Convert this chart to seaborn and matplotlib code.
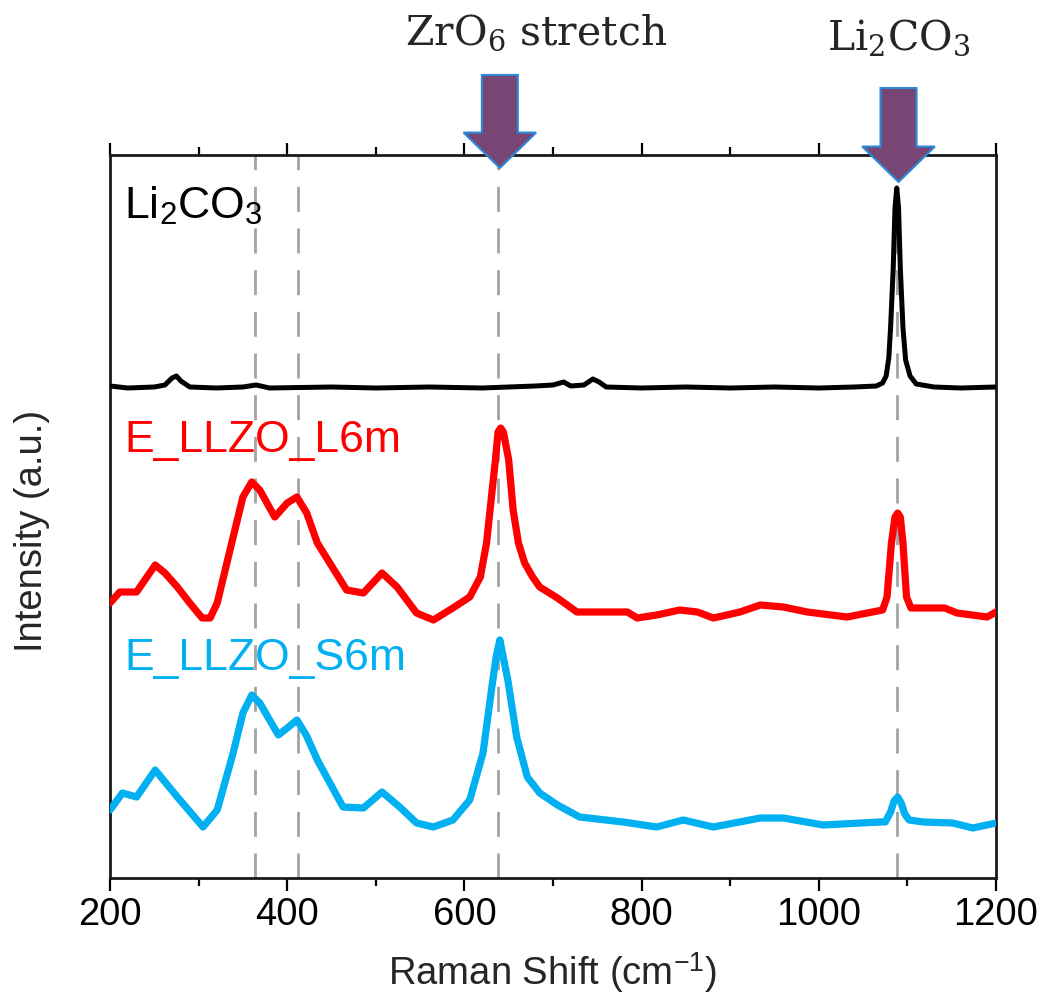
import numpy as np
import pandas as pd
import matplotlib
matplotlib.use("Agg")
import matplotlib.pyplot as plt
import matplotlib.transforms as mtransforms
from matplotlib.patches import FancyArrow
from matplotlib.ticker import MultipleLocator
import seaborn as sns

# Raman shift (cm-1) and intensity above each trace's own baseline (a.u.)
li2co3_shift = [200, 220, 250, 262, 270, 275, 280, 290, 320, 350, 365, 380, 450, 500, 560, 620,
                680, 700, 712, 720, 735, 745, 752, 760, 800, 850, 900, 950, 1000, 1040, 1065, 1072,
                1076, 1079, 1081, 1084, 1086, 1088, 1090, 1092, 1095, 1098, 1103, 1110, 1130, 1160, 1200]
li2co3_int = [2, 0, 1, 3, 10, 12, 7, 1, 0, 1, 3, 0, 1, 0, 1, 0,
              2, 3, 6, 2, 3, 9, 6, 1, 0, 1, 0, 1, 0, 1, 2, 5,
              12, 30, 60, 120, 180, 200, 180, 120, 60, 28, 12, 4, 1, 0, 1]

l6m_shift = [200, 211, 230, 237, 251, 262, 276, 290, 304, 313, 321, 339, 350, 360, 369, 386,
             400, 411, 422, 434, 467, 486, 507, 524, 546, 565, 587, 606, 618, 625, 631, 635,
             638, 641, 644, 650, 655, 661, 668, 677, 685, 705, 727, 784, 795, 817, 843, 863,
             881, 911, 934, 960, 987, 1032, 1072, 1077, 1082, 1086, 1089, 1092, 1095, 1099, 1104,
             1142, 1156, 1190, 1200]
l6m_int = [15, 26, 26, 35, 53, 45, 31, 15, 0, 0, 15, 81, 121, 136, 128, 101,
           115, 121, 105, 75, 28, 25, 45, 31, 5, -2, 10, 21, 41, 75, 125, 158,
           186, 190, 186, 158, 108, 75, 55, 41, 31, 20, 6, 6, 0, 3, 8, 6,
           0, 6, 13, 11, 6, 1, 8, 21, 75, 101, 105, 101, 75, 21, 10,
           10, 5, 1, 6]

s6m_shift = [200, 214, 230, 251, 276, 305, 321, 339, 350, 360, 369, 390, 400, 411, 422, 434,
             463, 486, 507, 527, 546, 565, 587, 606, 621, 631, 636, 640, 649, 659, 671, 685,
             705, 730, 779, 817, 847, 881, 934, 960, 1005, 1069, 1075, 1081, 1085, 1089, 1093,
             1097, 1102, 1118, 1151, 1174, 1200]
s6m_int = [18, 35, 31, 58, 31, 1, 18, 75, 115, 133, 125, 93, 100, 108, 92, 68,
           21, 20, 36, 21, 5, 1, 8, 28, 75, 141, 172, 188, 148, 91, 51, 35,
           23, 11, 6, 1, 8, 1, 10, 10, 3, 6, 6, 16, 27, 31, 25,
           14, 8, 6, 5, 0, 5]

sample_names = ["Li$_\\mathsf{2}$CO$_\\mathsf{3}$", "E_LLZO_L6m", "E_LLZO_S6m"]
stack_offsets = [490, 260, 50]
sample_colors = ["#000000", "#FF0000", "#00B0F0"]
line_widths = [3.6, 5.2, 5.2]

ref_shifts = [364, 412, 638, 1088]
x_ticks = [200, 400, 600, 800, 1000, 1200]
band_shifts = [640, 1090]
band_labels = ["ZrO$_\\mathrm{6}$ stretch", "Li$_\\mathrm{2}$CO$_\\mathrm{3}$"]

sns.set_theme(style="ticks")
plt.rcParams["font.family"] = ["Liberation Sans", "DejaVu Sans"]
plt.rcParams["mathtext.fontset"] = "custom"
plt.rcParams["mathtext.rm"] = "DejaVu Serif"
plt.rcParams["mathtext.it"] = "DejaVu Serif:italic"
plt.rcParams["mathtext.bf"] = "DejaVu Serif:bold"
plt.rcParams["mathtext.sf"] = "Liberation Sans"

frames = []
for name, xs, ys, off in zip(sample_names,
                             [li2co3_shift, l6m_shift, s6m_shift],
                             [li2co3_int, l6m_int, s6m_int],
                             stack_offsets):
    frames.append(pd.DataFrame({"shift": xs,
                                "intensity": np.asarray(ys, dtype=float) + off,
                                "sample": name}))
spectra = pd.DataFrame(pd.concat(frames, ignore_index=True))

fig = plt.figure(figsize=(10.42, 9.96), dpi=100)
ax = fig.add_axes([110 / 1042, 1 - 878 / 996, 886 / 1042, 723 / 996])

for x in ref_shifts:
    ax.axvline(x, color="#A3A3A3", lw=2.0, dashes=(9, 6), zorder=1)

for name, col, lw in zip(sample_names, sample_colors, line_widths):
    sns.lineplot(data=spectra[spectra["sample"] == name], x="shift", y="intensity",
                 color=col, lw=lw, estimator=None, ax=ax, zorder=3,
                 solid_joinstyle="round", solid_capstyle="round")

ax.set_xlim(200, 1200)
ax.set_ylim(0, 723)
ax.set_xticks(x_ticks)
ax.xaxis.set_minor_locator(MultipleLocator(100))
ax.set_yticks([])
ax.tick_params(axis="x", which="both", direction="out", top=True, bottom=True,
               labeltop=False, width=1.6, colors="#000000", labelsize=27.5, pad=5)
ax.tick_params(axis="x", which="major", length=9)
ax.tick_params(axis="x", which="minor", length=6)
for sp in ax.spines.values():
    sp.set_visible(True)
    sp.set_linewidth(2.0)
    sp.set_color("#1A1A1A")

ax.set_xlabel("Raman Shift (cm$^{\\mathsf{-1}}$)", fontsize=27.5, labelpad=12)
ax.set_ylabel("Intensity (a.u.)", fontsize=27.5)
ax.yaxis.set_label_coords(-0.068, 0.48)

# sample names next to each trace
label_y = [660, 426, 208]
for name, col, y in zip(sample_names, sample_colors, label_y):
    ax.text(216, y, name, color=col, fontsize=32, va="baseline", ha="left", zorder=4)

# band markers above the frame
trans = mtransforms.blended_transform_factory(ax.transData, ax.transAxes)
arrow_tops = [1.1107, 1.0927]
arrow_tips = [0.982, 0.9627]
for x, top, tip in zip(band_shifts, arrow_tops, arrow_tips):
    arr = FancyArrow(x, top, 0, tip - top, width=40.6, head_width=82, head_length=0.049,
                     length_includes_head=True, transform=trans, clip_on=False,
                     facecolor="#784675", edgecolor="#2B8AD8", lw=1.5, zorder=6)
    ax.add_patch(arr)

fig.text(536 / 1042, 1 - 45 / 996, band_labels[0], family="DejaVu Serif", fontsize=29.5,
         ha="center", va="baseline")
fig.text(899 / 1042, 1 - 50 / 996, band_labels[1], family="DejaVu Serif", fontsize=29.5,
         ha="center", va="baseline")

fig.savefig("out.png", dpi=100)
